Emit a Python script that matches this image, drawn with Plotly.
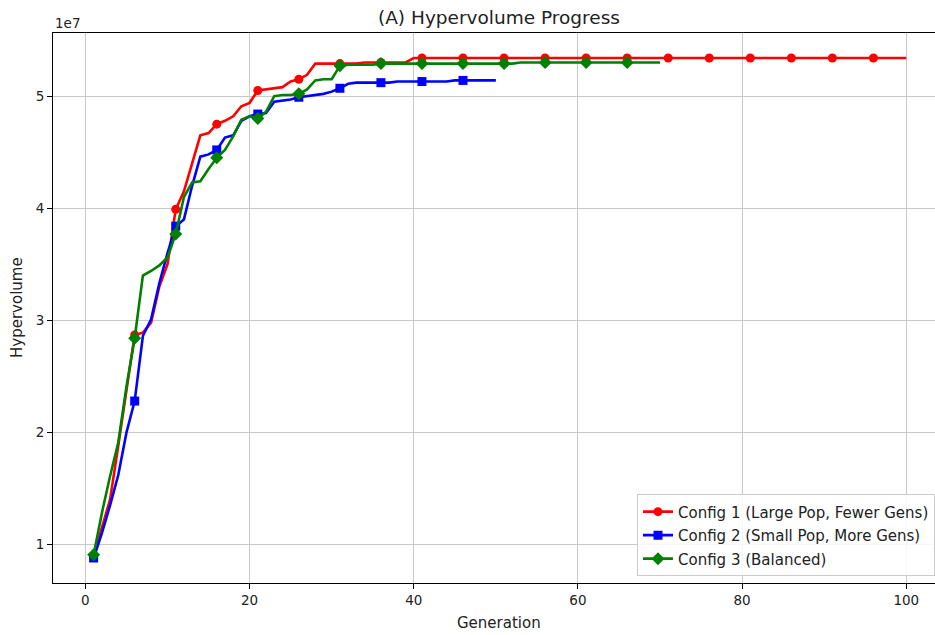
import plotly.graph_objects as go

SCALE = 1e7

# Hypervolume per generation (in units of 1e7)
config1 = [0.90, 1.15, 1.40, 1.88, 2.38, 2.87, 2.89, 2.98, 3.30, 3.50,
           3.99, 4.15, 4.40, 4.65, 4.67, 4.75, 4.78, 4.82, 4.91, 4.94,
           5.05, 5.06, 5.07, 5.08, 5.13, 5.15, 5.19, 5.29, 5.29, 5.29,
           5.29, 5.29, 5.29, 5.30, 5.30, 5.30, 5.30, 5.30, 5.30, 5.34] + [5.34] * 60
config2 = [0.88, 1.10, 1.35, 1.62, 2.00, 2.28, 2.86, 3.01, 3.33, 3.60,
           3.84, 3.90, 4.20, 4.46, 4.48, 4.52, 4.63, 4.65, 4.78, 4.82,
           4.84, 4.85, 4.95, 4.96, 4.97, 4.99, 5.00, 5.01, 5.02, 5.04,
           5.07, 5.11, 5.12, 5.12, 5.12, 5.12, 5.12, 5.13, 5.13, 5.13,
           5.13, 5.13, 5.13, 5.13, 5.14, 5.14, 5.14, 5.14, 5.14, 5.14]
config3 = [0.91, 1.28, 1.61, 1.91, 2.41, 2.84, 3.40, 3.44, 3.49, 3.56,
           3.77, 4.10, 4.23, 4.24, 4.35, 4.45, 4.52, 4.64, 4.79, 4.82,
           4.80, 4.86, 5.00, 5.01, 5.01, 5.02, 5.06, 5.14, 5.15, 5.15,
           5.27, 5.28, 5.28, 5.28, 5.28, 5.29, 5.29, 5.29, 5.29, 5.29,
           5.29, 5.29, 5.29, 5.29, 5.29, 5.29, 5.29, 5.29, 5.29, 5.29,
           5.29, 5.29, 5.30, 5.30, 5.30, 5.30, 5.30, 5.30, 5.30, 5.30,
           5.30, 5.30, 5.30, 5.30, 5.30, 5.30, 5.30, 5.30, 5.30, 5.30]

names = ["Config 1 (Large Pop, Fewer Gens)",
         "Config 2 (Small Pop, More Gens)",
         "Config 3 (Balanced)"]
colors = ["#ff0000", "#0000ff", "#008000"]
symbols = ["circle", "square", "diamond"]
msizes = [9, 9, 10]
series = [config1, config2, config3]
x_ticks = [0, 20, 40, 60, 80, 100]
y_ticks = [1, 2, 3, 4, 5]
MARK_EVERY = 5

FONT = "DejaVu Sans"
TXT = "#222222"
fig = go.Figure()

for i, (vals, name, col, sym, ms) in enumerate(zip(series, names, colors, symbols, msizes)):
    gens = list(range(1, len(vals) + 1))
    yv = [v * SCALE for v in vals]
    fig.add_trace(go.Scatter(x=gens, y=yv, mode="lines",
                             line=dict(color=col, width=2.6),
                             showlegend=False, hoverinfo="skip"))
    fig.add_trace(go.Scatter(x=gens[::MARK_EVERY], y=yv[::MARK_EVERY], mode="markers",
                             marker=dict(color=col, symbol=sym, size=ms, line=dict(width=0)),
                             showlegend=False))
for i, (name, col, sym, ms) in enumerate(zip(names, colors, symbols, msizes)):
    fig.add_trace(go.Scatter(x=[None], y=[None], mode="lines+markers", name=name,
                             legendgroup=f"g{i}",
                             line=dict(color=col, width=2.6),
                             marker=dict(color=col, symbol=sym, size=ms)))

all_vals = config1 + config2 + config3
ymin, ymax = min(all_vals), max(all_vals)
pad = (ymax - ymin) * 0.05

fig.update_layout(
    width=935, height=635,
    margin=dict(l=53, r=0, t=33, b=52),
    paper_bgcolor="white", plot_bgcolor="white",
    font=dict(family=FONT, size=13.5, color="#000000"),
    showlegend=True,
    legend=dict(x=1.0, xanchor="right", y=0.012, yanchor="bottom",
                bgcolor="rgba(255,255,255,0.85)", bordercolor="#cccccc", borderwidth=1,
                font=dict(family=FONT, size=15, color=TXT),
                traceorder="grouped", tracegroupgap=1, itemwidth=30),
    xaxis=dict(range=[-3.95, 103.5], tickvals=x_ticks, ticktext=[str(t) for t in x_ticks],
               showgrid=True, gridcolor="#c8c8c8", gridwidth=1,
               showline=True, linecolor="black", linewidth=1, mirror=True,
               ticks="outside", ticklen=5, tickcolor="black", zeroline=False,
               tickfont=dict(family=FONT, size=13.5, color=TXT)),
    yaxis=dict(range=[(ymin - pad) * SCALE, (ymax + pad) * SCALE],
               tickvals=[t * SCALE for t in y_ticks], ticktext=[str(t) for t in y_ticks],
               showgrid=True, gridcolor="#c8c8c8", gridwidth=1,
               showline=True, linecolor="black", linewidth=1, mirror=False,
               ticks="outside", ticklen=5, tickcolor="black", zeroline=False,
               tickfont=dict(family=FONT, size=13.5, color=TXT)),
    annotations=[
        dict(text="(A) Hypervolume Progress", xref="paper", yref="paper",
             x=0.506, y=1.0, yshift=16, xanchor="center", yanchor="middle",
             showarrow=False, font=dict(family=FONT, size=18.5, color=TXT)),
        dict(text="1e7", xref="paper", yref="paper", x=0, y=1.0, yshift=10,
             xanchor="left", yanchor="middle", showarrow=False,
             font=dict(family=FONT, size=13.5, color=TXT)),
        dict(text="Hypervolume", xref="paper", yref="paper", x=0, xshift=-36, y=0.5,
             xanchor="center", yanchor="middle", textangle=-90, showarrow=False,
             font=dict(family=FONT, size=15, color=TXT)),
        dict(text="Generation", xref="paper", yref="paper", x=0.506, y=0, yshift=-40,
             xanchor="center", yanchor="middle", showarrow=False,
             font=dict(family=FONT, size=15, color=TXT)),
    ],
)

fig.write_html("out.html")
